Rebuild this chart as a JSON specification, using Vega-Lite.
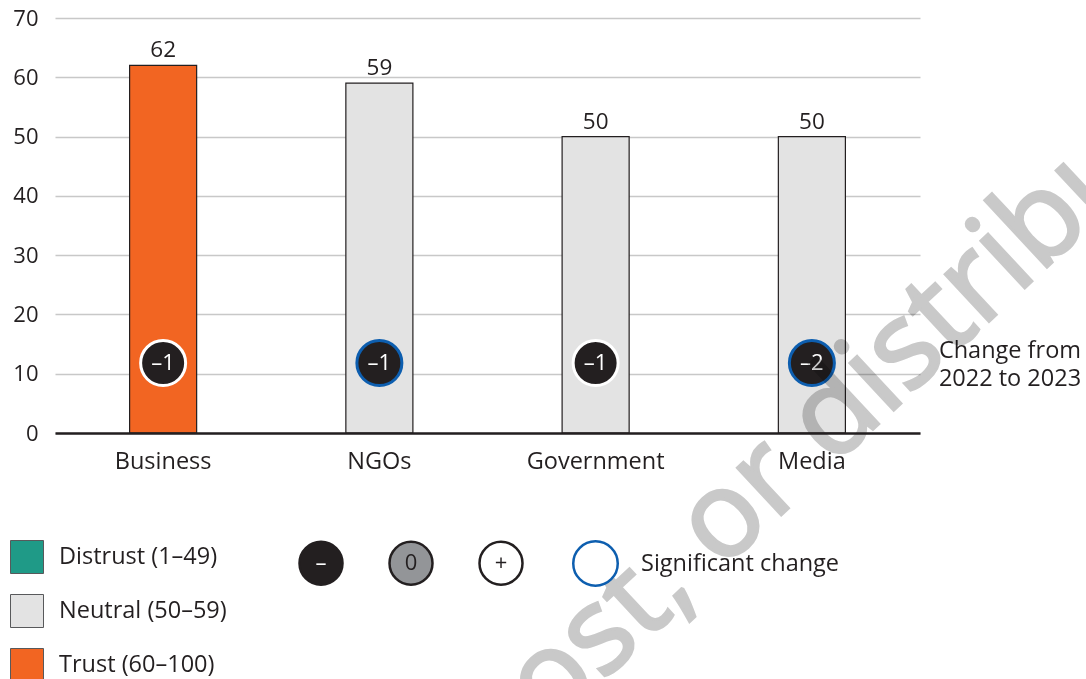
{
  "$schema": "https://vega.github.io/schema/vega-lite/v6.json",
  "width": 865,
  "height": 415,
  "autosize": {"type": "none"},
  "padding": {"left": 55, "top": 18, "right": 166, "bottom": 246},
  "background": "white",
  "config": {
    "font": "Open Sans",
    "view": {"stroke": null},
    "axis": {"labelFont": "Open Sans", "labelColor": "#231f20", "title": null},
    "legend": {"labelFont": "Open Sans", "labelColor": "#231f20", "padding": 0, "labelLimit": 400}
  },
  "data": {
    "values": [
      {"entity": "Business", "value": 62, "level": "Trust (60–100)", "change": "–1", "dir": "–", "sig": "Not significant"},
      {"entity": "NGOs", "value": 59, "level": "Neutral (50–59)", "change": "–1", "dir": "–", "sig": "Significant change"},
      {"entity": "Government", "value": 50, "level": "Neutral (50–59)", "change": "–1", "dir": "–", "sig": "Not significant"},
      {"entity": "Media", "value": 50, "level": "Neutral (50–59)", "change": "–2", "dir": "–", "sig": "Significant change"}
    ]
  },
  "encoding": {
    "x": {
      "field": "entity",
      "type": "nominal",
      "sort": null,
      "scale": {"paddingInner": 0.69, "paddingOuter": 0.345},
      "axis": {
        "labelAngle": 0,
        "labelFontSize": 23.5,
        "labelPadding": 16,
        "ticks": false,
        "domainColor": "#231f20",
        "domainWidth": 2.5,
        "zindex": 1
      }
    }
  },
  "layer": [
    {
      "mark": {"type": "bar", "stroke": "#231f20", "strokeWidth": 1.2},
      "encoding": {
        "y": {
          "field": "value",
          "type": "quantitative",
          "scale": {"domain": [0, 70], "nice": false},
          "axis": {
            "values": [0, 10, 20, 30, 40, 50, 60, 70],
            "domain": false,
            "ticks": false,
            "labelFontSize": 22,
            "labelPadding": 17,
            "gridColor": "#c8c8c8",
            "gridWidth": 1.5
          }
        },
        "color": {
          "field": "level",
          "type": "nominal",
          "scale": {
            "domain": ["Distrust (1–49)", "Neutral (50–59)", "Trust (60–100)"],
            "range": ["#1f9a87", "#e3e3e3", "#f26522"]
          },
          "legend": {
            "title": null,
            "orient": "none",
            "legendX": -45,
            "legendY": 522,
            "direction": "vertical",
            "symbolType": "square",
            "symbolSize": 1089,
            "symbolStrokeColor": "#58595b",
            "symbolStrokeWidth": 1,
            "labelFontSize": 23.5,
            "labelOffset": 15,
            "rowPadding": 16
          }
        }
      }
    },
    {
      "mark": {"type": "text", "baseline": "alphabetic", "dy": -8, "fontSize": 22.5, "color": "#231f20"},
      "encoding": {
        "y": {"field": "value", "type": "quantitative"},
        "text": {"field": "value", "type": "quantitative"}
      }
    },
    {
      "mark": {"type": "circle", "size": 2025, "opacity": 1, "strokeWidth": 3},
      "encoding": {
        "y": {"datum": 11.8, "type": "quantitative"},
        "fill": {
          "field": "dir",
          "type": "nominal",
          "scale": {"domain": ["–", "0", "+"], "range": ["#231f20", "#939598", "#ffffff"]},
          "legend": {
            "title": null,
            "orient": "none",
            "legendX": 243,
            "legendY": 522,
            "direction": "horizontal",
            "symbolType": "circle",
            "symbolSize": 1849,
            "symbolStrokeColor": "#231f20",
            "symbolStrokeWidth": 2.5,
            "symbolOpacity": 1,
            "labelAlign": "center",
            "labelOffset": -23,
            "labelFontSize": 22,
            "labelColor": {"expr": "datum.value === '–' ? '#ffffff' : '#231f20'"},
            "columnPadding": 36
          }
        },
        "stroke": {
          "field": "sig",
          "type": "nominal",
          "scale": {"domain": ["Significant change", "Not significant"], "range": ["#0d5eaf", "#ffffff"]},
          "legend": {
            "title": null,
            "orient": "none",
            "legendX": 517,
            "legendY": 522,
            "values": ["Significant change"],
            "symbolType": "circle",
            "symbolSize": 1980,
            "symbolFillColor": "#ffffff",
            "symbolStrokeWidth": 2.5,
            "symbolOpacity": 1,
            "labelFontSize": 23.5,
            "labelOffset": 22
          }
        }
      }
    },
    {
      "mark": {"type": "text", "fontSize": 22, "color": "#ffffff", "baseline": "middle"},
      "encoding": {
        "y": {"datum": 11.8, "type": "quantitative"},
        "text": {"field": "change", "type": "nominal"}
      }
    },
    {
      "data": {"values": [{"t": ["Change from", "2022 to 2023"]}]},
      "mark": {"type": "text", "fontSize": 23.5, "color": "#231f20", "align": "left", "baseline": "middle", "lineHeight": 28, "dx": 127, "dy": -12},
      "encoding": {
        "x": {"datum": "Media", "type": "nominal"},
        "y": {"datum": 11.8, "type": "quantitative"},
        "text": {"field": "t"}
      }
    },
    {
      "data": {"values": [{"t": "Do not copy, post, or distribute"}]},
      "mark": {"type": "text", "fontSize": 120, "fontWeight": "normal", "color": "#c9c9c9", "stroke": "#c9c9c9", "strokeWidth": 3, "blend": "multiply", "align": "center", "baseline": "alphabetic", "angle": -43, "dx": -4},
      "encoding": {
        "x": {"datum": "Government", "type": "nominal"},
        "y": {"datum": -43, "type": "quantitative"},
        "text": {"field": "t"}
      }
    }
  ]
}
